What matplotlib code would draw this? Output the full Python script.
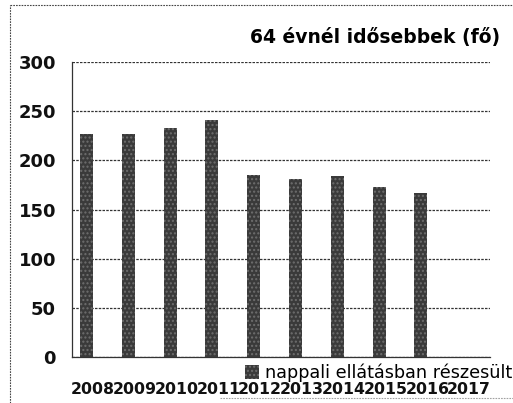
import numpy as np
import matplotlib.pyplot as plt
from matplotlib.lines import Line2D
from matplotlib.patches import Patch

years = ["2008", "2009", "2010", "2011", "2012", "2013", "2014", "2015", "2016", "2017"]
nappali = [227, 227, 233, 241, 185, 181, 184, 173, 167, None]
y_ticks = [0, 50, 100, 150, 200, 250, 300]

title = "64 évnél idősebbek (fő)"
series_name = "nappali ellátásban részesült"

bar_color = "#3a3a3a"
hatch_color = "#6e6e6e"
grid_style = (0, (2, 1))

fig = plt.figure(figsize=(5.13, 4.03), dpi=100)
ax = fig.add_axes([0.1404, 0.1141, 0.8148, 0.7320])

# második (üres) sorozat helye miatt az oszlopok balra tolva
x = np.arange(len(years))
width = 0.31
vals = [v if v is not None else 0 for v in nappali]
ax.bar(x - width / 2, vals, width=width, color=bar_color, edgecolor=hatch_color, linewidth=0,
       hatch="....", zorder=3)

ax.set_xlim(-0.5, len(years) - 0.5)
ax.set_ylim(0, 300)
ax.set_yticks(y_ticks)
ax.set_yticklabels([str(t) for t in y_ticks], fontsize=13, fontweight="bold", color="#111111")
ax.set_xticks(x)
ax.set_xticklabels(years, fontsize=11.3, fontweight="bold", color="#111111")
ax.tick_params(axis="y", length=0, pad=11.5)
ax.tick_params(axis="x", length=0, pad=18)

ax.grid(axis="y", color="#333333", linestyle=grid_style, linewidth=0.9, zorder=0)
for side in ["top", "right"]:
    ax.spines[side].set_visible(False)
for side in ["left", "bottom"]:
    ax.spines[side].set_linestyle(grid_style)
    ax.spines[side].set_color("#333333")
    ax.spines[side].set_linewidth(0.9)

fig.text(0.975, 0.908, title, ha="right", va="center", fontsize=13.5, fontweight="bold")

handle = Patch(facecolor=bar_color, edgecolor=hatch_color, hatch="....", linewidth=0)
ax.legend([handle], [series_name], loc="center right", bbox_to_anchor=(0.998, 0.0744),
          bbox_transform=fig.transFigure, frameon=False, fontsize=12.7,
          handlelength=0.8, handleheight=0.8, handletextpad=0.3, borderpad=0, borderaxespad=0)

# külső keret pontozott vonalai
W, H = 513, 403
frame = dict(color="#444444", linestyle=(0, (1.5, 1)), linewidth=0.8, transform=fig.transFigure)
fig.add_artist(Line2D([10 / W, 1], [1 - 5 / H, 1 - 5 / H], **frame))
fig.add_artist(Line2D([10 / W, 10 / W], [0, 1 - 5 / H], **frame))
fig.add_artist(Line2D([220 / W, 1], [1 - 398 / H, 1 - 398 / H], alpha=0.5, **frame))

fig.savefig("out.png", dpi=100)
